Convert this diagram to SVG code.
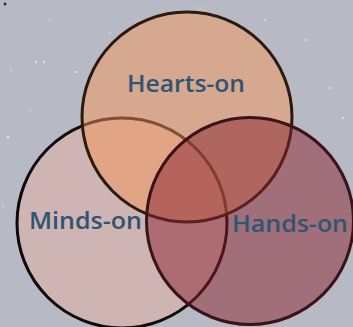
<svg xmlns="http://www.w3.org/2000/svg" width="353" height="327" viewBox="0 0 353 327">
<style>
.lbl{font-family:"Open Sans","Liberation Sans",sans-serif;font-size:23px;font-weight:600;fill:#2f5572}
.star{fill:#ffffff;opacity:0.7}
</style>
<rect width="353" height="327" fill="#b7bac4"/>
<g id="stars">
<circle cx="5" cy="4" r="1.5" fill="#2a3040"/>
<circle cx="36" cy="62" r="1" class="star"/>
<circle cx="44" cy="62" r="1" class="star"/>
<circle cx="50" cy="20" r="0.8" class="star"/>
<circle cx="11" cy="70" r="0.8" class="star"/>
<circle cx="76" cy="72" r="1" class="star"/>
<circle cx="8" cy="137" r="1.2" class="star"/>
<circle cx="30" cy="110" r="0.8" class="star"/>
<circle cx="110" cy="33" r="0.8" class="star"/>
<circle cx="200" cy="8" r="0.8" class="star"/>
<circle cx="306" cy="40" r="1" class="star"/>
<circle cx="330" cy="88" r="1" class="star"/>
<circle cx="315" cy="140" r="0.8" class="star"/>
<circle cx="343" cy="118" r="1" class="star"/>
<circle cx="3" cy="206" r="0.8" class="star"/>
<circle cx="265" cy="20" r="0.8" class="star"/>
</g>
<g id="minds-on">
<circle cx="122" cy="223" r="105" fill="#e6aea2" fill-opacity="0.5" stroke="#0d0a0a" stroke-width="3"/>
</g>
<g id="hearts-on">
<circle cx="187" cy="117" r="105" fill="#f4955a" fill-opacity="0.5" stroke="#2a1a10" stroke-width="3"/>
</g>
<g id="hands-on">
<circle cx="250" cy="221" r="103.5" fill="#8a2430" fill-opacity="0.5" stroke="#3a1418" stroke-width="3"/>
</g>
<g id="labels">
<text class="lbl" x="186" y="92" text-anchor="middle" textLength="118" lengthAdjust="spacingAndGlyphs">Hearts-on</text>
<text class="lbl" x="85.5" y="229" text-anchor="middle" textLength="113" lengthAdjust="spacingAndGlyphs">Minds-on</text>
<text class="lbl" x="290" y="232" text-anchor="middle" textLength="116" lengthAdjust="spacingAndGlyphs">Hands-on</text>
</g>
</svg>
